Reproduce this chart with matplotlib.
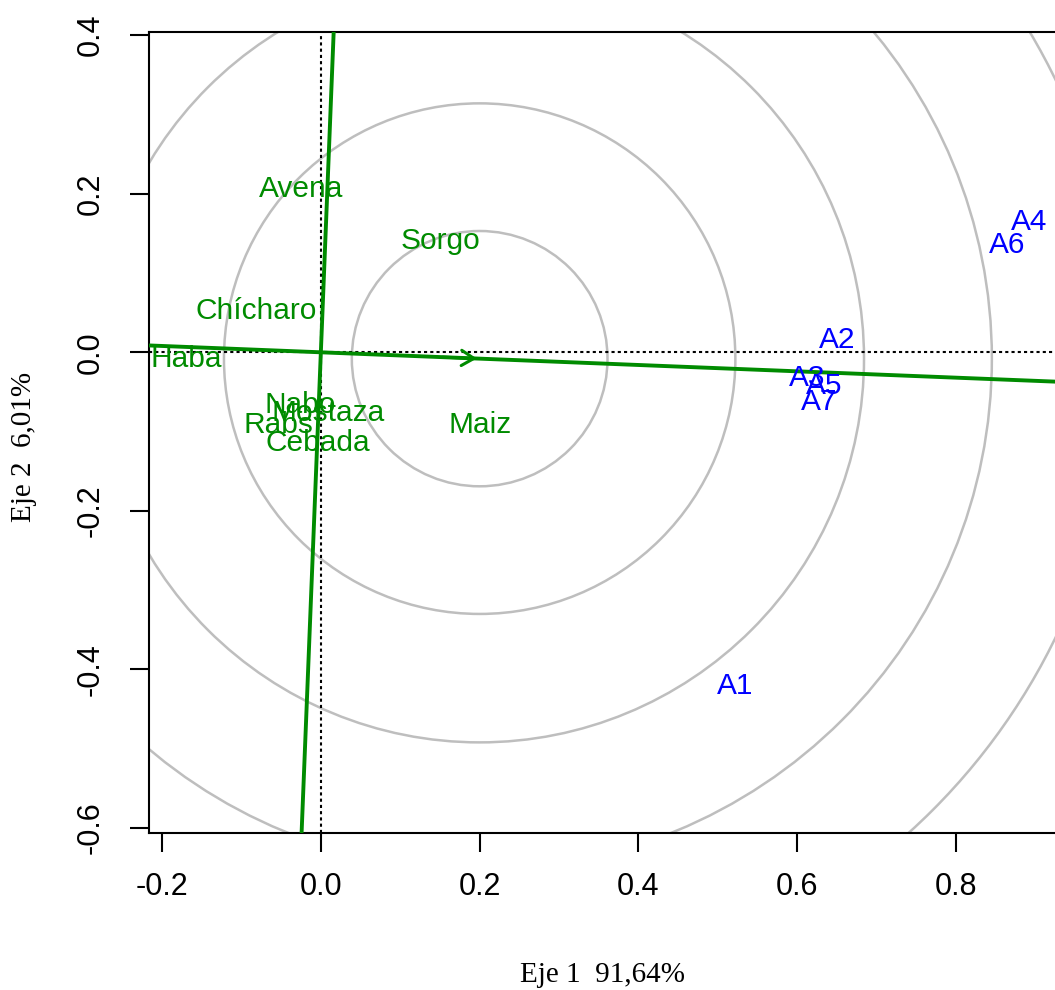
import numpy as np
import matplotlib.pyplot as plt
from matplotlib.patches import Circle

# datos del biplot
cultivos = ['Avena', 'Sorgo', 'Chícharo', 'Haba', 'Nabo', 'Mostaza', 'Rabs', 'Cebada', 'Maiz']
cult_x = [-0.025, 0.151, -0.082, -0.170, -0.026, 0.009, -0.054, -0.004, 0.201]
cult_y = [0.206, 0.140, 0.052, -0.008, -0.067, -0.077, -0.092, -0.115, -0.092]

ambientes = ['A1', 'A2', 'A3', 'A4', 'A5', 'A6', 'A7']
amb_x = [0.522, 0.650, 0.613, 0.892, 0.634, 0.864, 0.627]
amb_y = [-0.421, 0.015, -0.033, 0.164, -0.042, 0.135, -0.063]

# ambiente medio (punta de la flecha) y radios de los circulos
aec = (0.200, -0.008)
radios = [0.161, 0.322, 0.484, 0.645, 0.806]

verde = '#008B00'
azul = '#0000FF'

fig = plt.figure(figsize=(10.55, 9.9), dpi=100)
ax = fig.add_axes([149/1055, 1 - 833/990, 1 - 149/1055, (833 - 32)/990])

ax.set_xlim(-0.2164, 0.9245)
ax.set_ylim(-0.6063, 0.4040)

# circulos concentricos
for r in radios:
    ax.add_patch(Circle(aec, r, fill=False, edgecolor='#BEBEBE', lw=1.8, zorder=1))

# ejes punteados
ax.axhline(0, color='black', ls=(0, (1.5, 1.5)), lw=1.5, zorder=2)
ax.axvline(0, color='black', ls=(0, (1.5, 1.5)), lw=1.5, zorder=2)

# eje del ambiente medio y su perpendicular
m = aec[1] / aec[0]
xs = np.array([-1.0, 2.0])
ax.plot(xs, m * xs, color=verde, lw=2.8, zorder=3)
ys = np.array([-1.0, 1.0])
ax.plot(-m * ys, ys, color=verde, lw=2.8, zorder=3)
ax.annotate('', xy=aec, xytext=(aec[0] - 0.05, m * (aec[0] - 0.05)),
            arrowprops=dict(arrowstyle='->,head_length=0.9,head_width=0.55',
                            color=verde, lw=2.2), zorder=4)

for nom, x, y in zip(cultivos, cult_x, cult_y):
    ax.text(x, y, nom, color=verde, fontsize=21.5, ha='center', va='center',
            family='Liberation Sans', clip_on=True, zorder=5)
for nom, x, y in zip(ambientes, amb_x, amb_y):
    ax.text(x, y, nom, color=azul, fontsize=21.5, ha='center', va='center',
            family='Liberation Sans', clip_on=True, zorder=5)

ax.set_xticks([-0.2, 0.0, 0.2, 0.4, 0.6, 0.8])
ax.set_yticks([-0.6, -0.4, -0.2, 0.0, 0.2, 0.4])
ax.set_xticklabels(['-0.2', '0.0', '0.2', '0.4', '0.6', '0.8'])
ax.set_yticklabels(['-0.6', '-0.4', '-0.2', '0.0', '0.2', '0.4'], rotation=90, va='center')
for lab in ax.get_xticklabels() + ax.get_yticklabels():
    lab.set_family('Liberation Sans')
    lab.set_fontsize(22)
ax.tick_params(direction='out', length=14, width=1.5, pad=14)
ax.tick_params(axis='y', pad=17)

ax.spines['right'].set_visible(False)
for s in ['left', 'top', 'bottom']:
    ax.spines[s].set_linewidth(1.5)

fig.text(602/1055, 1 - 975/990, 'Eje 1  91,64%', ha='center', va='center',
         family='Liberation Serif', fontsize=21)
fig.text(24/1055, 1 - 447/990, 'Eje 2  6,01%', ha='center', va='center',
         rotation=90, family='Liberation Serif', fontsize=21)

fig.savefig('out.png', dpi=100)
